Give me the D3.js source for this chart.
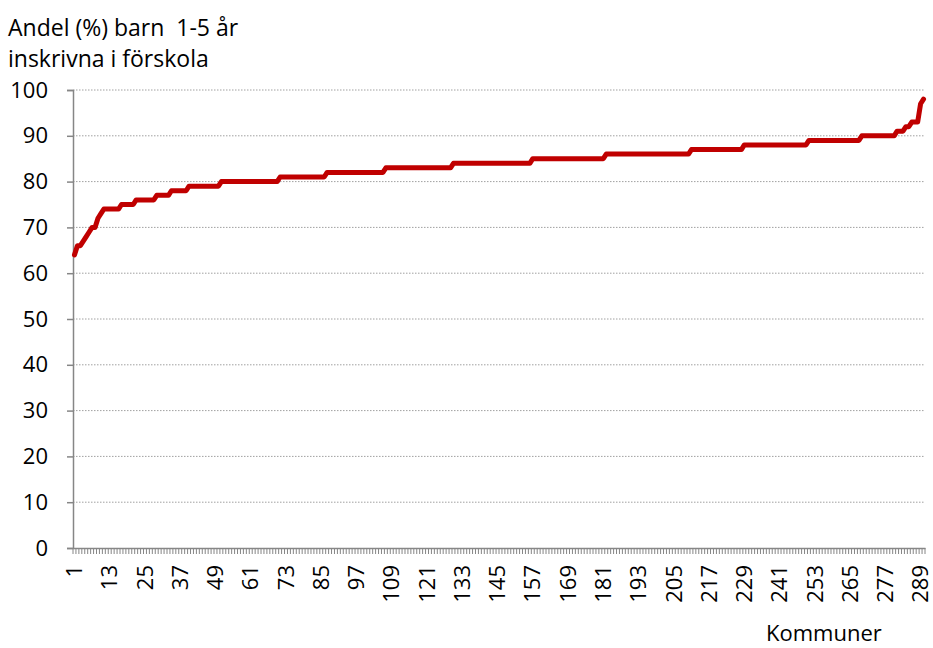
<!DOCTYPE html>
<html>
<head>
<meta charset="utf-8">
<script src="https://cdn.jsdelivr.net/npm/d3@7"></script>
<style>
  body { margin: 0; background: #fff; }
  text { font-family: "Open Sans", sans-serif; fill: #000; }
</style>
</head>
<body>
<div class="chart"></div>
<script>
  // data: share (%) of children 1-5 enrolled in preschool, sorted by municipality
  var values = [
    64, 66, 66, 67, 68, 69, 70, 70, 72, 73,
    74, 74, 74, 74, 74, 74,
    75, 75, 75, 75, 75,
    76, 76, 76, 76, 76, 76, 76,
    77, 77, 77, 77, 77,
    78, 78, 78, 78, 78, 78,
    79, 79, 79, 79, 79, 79, 79, 79, 79, 79, 79,
    80, 80, 80, 80, 80, 80, 80, 80, 80, 80, 80, 80, 80, 80, 80, 80, 80, 80, 80, 80,
    81, 81, 81, 81, 81, 81, 81, 81, 81, 81, 81, 81, 81, 81, 81, 81,
    82, 82, 82, 82, 82, 82, 82, 82, 82, 82, 82, 82, 82, 82, 82, 82, 82, 82, 82, 82,
    83, 83, 83, 83, 83, 83, 83, 83, 83, 83, 83, 83, 83, 83, 83, 83, 83, 83, 83, 83, 83, 83, 83,
    84, 84, 84, 84, 84, 84, 84, 84, 84, 84, 84, 84, 84, 84, 84, 84, 84, 84, 84, 84, 84, 84, 84, 84, 84, 84, 84,
    85, 85, 85, 85, 85, 85, 85, 85, 85, 85, 85, 85, 85, 85, 85, 85, 85, 85, 85, 85, 85, 85, 85, 85, 85,
    86, 86, 86, 86, 86, 86, 86, 86, 86, 86, 86, 86, 86, 86, 86, 86, 86, 86, 86, 86, 86, 86, 86, 86, 86, 86, 86, 86, 86,
    87, 87, 87, 87, 87, 87, 87, 87, 87, 87, 87, 87, 87, 87, 87, 87, 87, 87,
    88, 88, 88, 88, 88, 88, 88, 88, 88, 88, 88, 88, 88, 88, 88, 88, 88, 88, 88, 88, 88, 88,
    89, 89, 89, 89, 89, 89, 89, 89, 89, 89, 89, 89, 89, 89, 89, 89, 89, 89,
    90, 90, 90, 90, 90, 90, 90, 90, 90, 90, 90, 90,
    91, 91, 91, 92, 92, 93, 93, 93, 97, 98
  ];
  var categories = values.map(function(d, i) { return String(i + 1); });

  var xLabels = ["1", "13", "25", "37", "49", "61", "73", "85", "97", "109", "121", "133",
    "145", "157", "169", "181", "193", "205", "217", "229", "241", "253", "265", "277", "289"];
  var yTicks = [0, 10, 20, 30, 40, 50, 60, 70, 80, 90, 100];

  (function() {
    // dimensions
    var width = 933, height = 648;
    var plotLeft = 73, plotRight = 925, plotTop = 90, plotBottom = 548;

    var svg = d3.select(".chart")
      .append("svg")
      .attr("width", width)
      .attr("height", height);

    var x = d3.scaleBand()
      .domain(categories)
      .range([plotLeft, plotRight])
      .padding(0);
    var y = d3.scaleLinear()
      .domain([0, 100])
      .range([plotBottom, plotTop]);

    // gridlines
    svg.selectAll(".grid")
      .data(yTicks.filter(function(d) { return d > 0; }))
      .enter()
      .append("line")
      .attr("x1", plotLeft)
      .attr("x2", plotRight)
      .attr("y1", function(d) { return y(d); })
      .attr("y2", function(d) { return y(d); })
      .attr("stroke", "#a0a0a0")
      .attr("stroke-width", 1)
      .attr("stroke-dasharray", "1.5,1.5");

    // y axis
    var yAxis = svg.append("g")
      .attr("transform", "translate(" + plotLeft + ",0)")
      .call(d3.axisLeft(y).tickValues(yTicks).tickSize(6).tickPadding(19));
    yAxis.selectAll("text").style("font-size", "22px").style("font-family", "Open Sans");
    yAxis.selectAll("line, path").attr("stroke", "#868686").attr("stroke-width", 1.5);

    // x tick marks at category boundaries
    var bounds = categories.map(function(c) { return x(c); }).concat([plotRight]);
    svg.selectAll(".xtick")
      .data(bounds)
      .enter()
      .append("line")
      .attr("x1", function(d) { return d; })
      .attr("x2", function(d) { return d; })
      .attr("y1", plotBottom)
      .attr("y2", plotBottom + 6)
      .attr("stroke", "#868686")
      .attr("stroke-width", 1);

    // x axis with labels every 12th
    var xAxis = svg.append("g")
      .attr("transform", "translate(0," + plotBottom + ")")
      .call(d3.axisBottom(x).tickValues(xLabels).tickSize(0).tickPadding(0));
    xAxis.select(".domain").attr("stroke", "#868686").attr("stroke-width", 1.5);
    xAxis.selectAll("text")
      .style("font-size", "22px")
      .style("font-family", "Open Sans")
      .attr("text-anchor", "end")
      .attr("transform", "rotate(-90)")
      .attr("x", -17)
      .attr("y", 0)
      .attr("dy", "0.35em");

    // line
    var line = d3.line()
      .x(function(d, i) { return x(categories[i]) + x.bandwidth() / 2; })
      .y(function(d) { return y(d); });

    svg.append("path")
      .datum(values)
      .attr("d", line)
      .attr("fill", "none")
      .attr("stroke", "#c00000")
      .attr("stroke-width", 5)
      .attr("stroke-linejoin", "round")
      .attr("stroke-linecap", "round");

    // titles
    svg.append("text")
      .attr("x", 8)
      .attr("y", 36)
      .style("font-size", "23px")
      .style("white-space", "pre")
      .text("Andel (%) barn  1-5 år");
    svg.append("text")
      .attr("x", 8)
      .attr("y", 67)
      .style("font-size", "23px")
      .text("inskrivna i förskola");

    svg.append("text")
      .attr("x", 766)
      .attr("y", 641)
      .style("font-size", "22px")
      .text("Kommuner");
  })();
</script>
</body>
</html>
